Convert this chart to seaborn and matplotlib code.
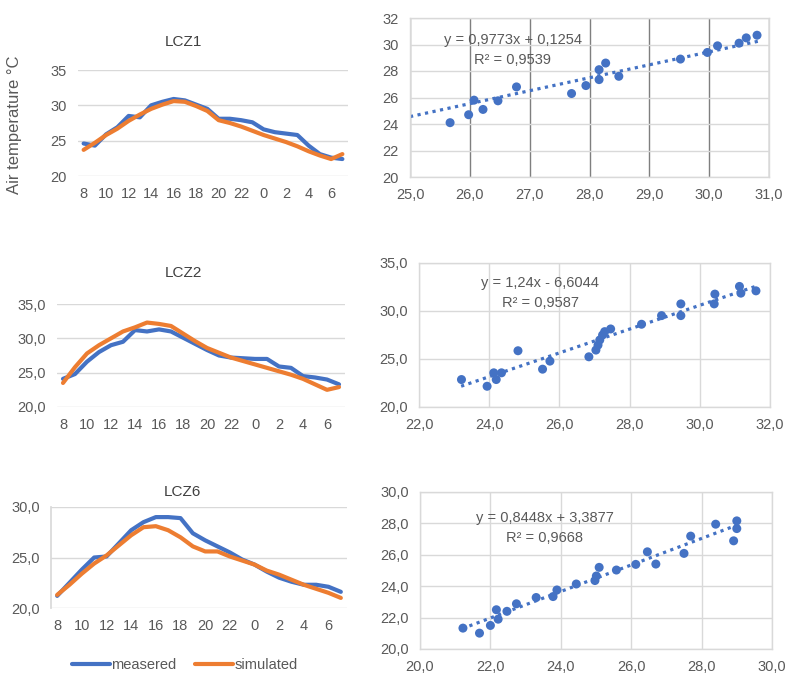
import numpy as np
import pandas as pd
import matplotlib
matplotlib.use("Agg")
import matplotlib.pyplot as plt
import seaborn as sns

sns.set_theme(style="white")
plt.rcParams["font.family"] = ["Liberation Sans", "DejaVu Sans"]

# =========================
# DATA
# =========================
hours = [8, 9, 10, 11, 12, 13, 14, 15, 16, 17, 18, 19, 20, 21, 22, 23, 0, 1, 2, 3, 4, 5, 6, 7]

lcz1_measured = [24.6, 24.3, 25.9, 26.9, 28.5, 28.3, 30.0, 30.5, 30.9, 30.7, 30.1, 29.5,
                 28.1, 28.1, 27.9, 27.6, 26.6, 26.2, 26.0, 25.8, 24.3, 23.1, 22.6, 22.4]
lcz1_simulated = [23.7, 24.7, 25.8, 26.7, 27.8, 28.7, 29.5, 30.1, 30.6, 30.5, 29.9, 29.2,
                  27.9, 27.5, 27.0, 26.4, 25.8, 25.3, 24.8, 24.2, 23.5, 22.9, 22.4, 23.1]

lcz2_measured = [24.1, 24.8, 26.6, 28.0, 29.0, 29.5, 31.2, 31.0, 31.3, 31.0, 30.1, 29.2,
                 28.3, 27.5, 27.2, 27.1, 27.0, 27.0, 25.9, 25.7, 24.5, 24.3, 24.0, 23.3]
lcz2_simulated = [23.5, 25.8, 27.8, 29.0, 30.0, 31.0, 31.6, 32.3, 32.1, 31.8, 30.7, 29.6,
                  28.6, 27.9, 27.2, 26.7, 26.2, 25.7, 25.2, 24.7, 24.1, 23.3, 22.5, 22.9]

lcz6_measured = [21.2, 22.5, 23.8, 25.0, 25.1, 26.4, 27.7, 28.5, 29.0, 29.0, 28.9, 27.4,
                 26.7, 26.1, 25.5, 24.8, 24.3, 23.6, 23.0, 22.6, 22.3, 22.3, 22.1, 21.6]
lcz6_simulated = [21.3, 22.3, 23.4, 24.4, 25.2, 26.2, 27.2, 28.0, 28.1, 27.7, 27.0, 26.1,
                  25.6, 25.6, 25.1, 24.7, 24.3, 23.7, 23.3, 22.8, 22.3, 21.9, 21.5, 21.0]

sc1_x = [25.67, 25.98, 26.07, 26.22, 26.47, 26.78, 27.70, 27.94, 28.16, 28.16, 28.27, 28.49,
         29.52, 29.97, 30.14, 30.50, 30.62, 30.80]
sc1_y = [24.1, 24.7, 25.8, 25.1, 25.75, 26.8, 26.3, 26.9, 27.35, 28.1, 28.6, 27.6,
         28.9, 29.4, 29.9, 30.1, 30.5, 30.7]

sc2_x = [23.21, 23.94, 24.13, 24.20, 24.35, 24.82, 25.52, 25.73, 26.84, 27.04, 27.10, 27.15,
         27.23, 27.29, 27.46, 28.34, 28.91, 29.46, 29.46, 30.41, 30.43, 31.13, 31.17, 31.60]
sc2_y = [22.86, 22.16, 23.56, 22.86, 23.56, 25.86, 23.94, 24.78, 25.23, 25.93, 26.45, 26.98,
         27.50, 27.85, 28.13, 28.62, 29.52, 30.74, 29.52, 30.74, 31.76, 32.56, 31.86, 32.10]

sc3_x = [21.22, 21.69, 22.00, 22.17, 22.22, 22.47, 22.74, 23.30, 23.78, 23.89, 24.44, 24.97,
         25.01, 25.09, 25.58, 26.13, 26.46, 26.70, 27.50, 27.69, 28.40, 28.91, 29.00, 29.00]
sc3_y = [21.33, 21.01, 21.50, 22.50, 21.90, 22.40, 22.88, 23.28, 23.34, 23.76, 24.14, 24.36,
         24.65, 25.20, 25.03, 25.39, 26.19, 25.41, 26.09, 27.19, 27.95, 26.89, 28.16, 27.67]

fits = [(0.9773, 0.1254, 25.0, 30.85), (1.24, -6.6044, 23.2, 31.6), (0.8448, 3.3877, 21.2, 29.0)]
eq_texts = ["y = 0,9773x + 0,1254", "y = 1,24x - 6,6044", "y = 0,8448x + 3,3877"]
r2_texts = ["R² = 0,9539", "R² = 0,9587", "R² = 0,9668"]

BLUE = "#4472C4"
ORANGE = "#ED7D31"
TXT = "#595959"
GRID = "#D9D9D9"

fig = plt.figure(figsize=(7.88, 6.77), dpi=100)
W, H = 788, 677


def px_axes(l, t, r, b):
    return fig.add_axes([l / W, 1 - b / H, (r - l) / W, (b - t) / H])


# =========================
# LINE PANELS
# =========================
line_sets = [
    ("LCZ1", lcz1_measured, lcz1_simulated, (78, 70, 348, 176), [20, 25, 30, 35], False, (183, 42)),
    ("LCZ2", lcz2_measured, lcz2_simulated, (57, 304, 345, 407), [20, 25, 30, 35], True, (183, 273)),
    ("LCZ6", lcz6_measured, lcz6_simulated, (51, 507, 347, 608), [20, 25, 30], True, (182, 492)),
]

for i, (name, meas, sim, box, yt, comma, tpos) in enumerate(line_sets):
    ax = px_axes(*box)
    df = pd.DataFrame({
        "idx": list(range(24)) * 2,
        "temp": meas + sim,
        "series": ["measered"] * 24 + ["simulated"] * 24,
    })
    sns.lineplot(data=df, x="idx", y="temp", hue="series",
                 palette={"measered": BLUE, "simulated": ORANGE},
                 linewidth=3, ax=ax, legend=(i == 2))
    ax.set_xlim(-0.5, 23.5)
    ax.set_ylim(yt[0], yt[-1])
    ax.set_yticks(yt)
    ax.set_yticklabels([f"{v:.1f}".replace(".", ",") if comma else str(v) for v in yt])
    ax.set_xticks(range(0, 24, 2))
    ax.set_xticklabels([str(hours[k]) for k in range(0, 24, 2)])
    ax.yaxis.grid(True, color=GRID, linewidth=1)
    ax.set_axisbelow(True)
    for s in ax.spines.values():
        s.set_visible(False)
    if name == "LCZ6":
        ax.spines["left"].set_visible(True)
        ax.spines["left"].set_color(GRID)
    ax.tick_params(axis="both", length=0, labelsize=10.5, colors=TXT, pad=8)
    ax.set_xlabel("")
    ax.set_ylabel("")
    fig.text(tpos[0] / W, 1 - tpos[1] / H, name, ha="center", va="center",
             fontsize=11, color="#404040")
    if i == 2:
        handles, labels = ax.get_legend_handles_labels()
        ax.get_legend().remove()
        fig.legend(handles, labels, loc="center", bbox_to_anchor=(185 / W, 1 - 665 / H),
                   ncol=2, frameon=False, fontsize=10.5, handlelength=2.6,
                   columnspacing=1.3, handletextpad=0.1, labelcolor=TXT)

fig.text(15 / W, 1 - 125 / H, "Air temperature °C", rotation=90, ha="center",
         va="center", fontsize=12, color=TXT)

# =========================
# SCATTER PANELS
# =========================
scatter_sets = [
    (sc1_x, sc1_y, (410, 18, 769, 177), np.arange(25, 31.5, 1), np.arange(20, 33, 2), False, (513, 40, 60)),
    (sc2_x, sc2_y, (419, 263, 770, 407), np.arange(22, 33, 2), np.arange(20, 36, 5), True, (540, 283, 303)),
    (sc3_x, sc3_y, (420, 492, 772, 649), np.arange(20, 31, 2), np.arange(20, 31, 2), True, (545, 518, 538)),
]

for i, (xs, ys, box, xt, yt, comma, tpos) in enumerate(scatter_sets):
    ax = px_axes(*box)
    sdf = pd.DataFrame({"x": xs, "y": ys})
    sns.scatterplot(data=sdf, x="x", y="y", color=BLUE, s=42, edgecolor="none", ax=ax, zorder=3)
    a, b, x0, x1 = fits[i]
    lx = np.array([x0, x1])
    ax.plot(lx, a * lx + b, color=BLUE, linestyle=(0, (1, 1.4)), linewidth=2.3, zorder=2)
    ax.set_xlim(xt[0], xt[-1])
    ax.set_ylim(yt[0], yt[-1])
    ax.set_xticks(xt)
    ax.set_xticklabels([f"{v:.1f}".replace(".", ",") for v in xt])
    ax.set_yticks(yt)
    ax.set_yticklabels([f"{v:.1f}".replace(".", ",") if comma else str(int(v)) for v in yt])
    ax.grid(True, color=GRID, linewidth=1)
    if i == 0:
        ax.xaxis.grid(True, color="#7F7F7F", linewidth=1)
    ax.set_axisbelow(True)
    for s in ax.spines.values():
        s.set_color(GRID)
        s.set_linewidth(1)
    ax.tick_params(axis="both", length=0, labelsize=10.5, colors=TXT, pad=8)
    ax.set_xlabel("")
    ax.set_ylabel("")
    fig.text(tpos[0] / W, 1 - tpos[1] / H, eq_texts[i], ha="center", va="center",
             fontsize=10.5, color=TXT)
    fig.text(tpos[0] / W, 1 - tpos[2] / H, r2_texts[i], ha="center", va="center",
             fontsize=10.5, color=TXT)

fig.savefig("out.png", dpi=100)
